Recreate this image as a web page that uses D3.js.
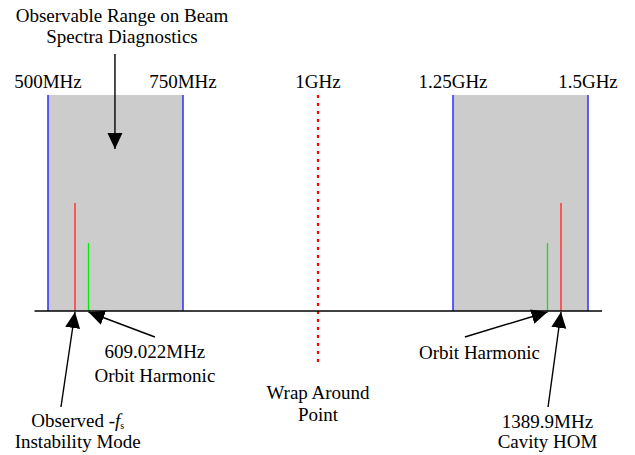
<!DOCTYPE html>
<html><head><meta charset="utf-8">
<script src="https://cdn.jsdelivr.net/npm/d3@7"></script>
<style>
body{margin:0;background:#fff;}
text{font-family:"Liberation Serif","Times New Roman",serif;font-size:19px;fill:#000;}
</style></head>
<body><svg id="c" width="635" height="455"></svg>
<script>
// ---- data ----
const tickFreqs = [500, 750, 1000, 1250, 1500];
const tickLabels = ["500MHz", "750MHz", "1GHz", "1.25GHz", "1.5GHz"];
const rangeStarts = [500, 1250];
const rangeEnds = [750, 1500];
const modeFreqs = [550, 1450];        // red lines (instability mode / cavity HOM)
const modeHeights = [0.5, 0.5];
const harmonicFreqs = [575, 1425];    // green lines (orbit harmonics)
const harmonicHeights = [0.315, 0.315];
const wrapFreq = 1000;
const axisExtent = [475, 1526];
// annotations: label text lines, label centre freq, target freq, arrow tail freq
const annLines = [["609.022MHz", "Orbit Harmonic"], ["Observed -f_s", "Instability Mode"], ["Wrap Around", "Point"], ["Orbit Harmonic"], ["1389.9MHz", "Cavity HOM"]];
const annLabelFreq = [698, 555, 1000, 1299, 1425];
const annTargetFreq = [575, 550, null, 1425, 1450];
const annTailFreq = [698, 524, null, 1272, 1426];

// ---- layout ----
const svg = d3.select("#c");
const x = d3.scaleLinear().domain([500, 1500]).range([48, 588]);
const y = d3.scaleLinear().domain([0, 1]).range([311, 95]);

// shaded ranges
const ranges = rangeStarts.map((s, i) => ({s, e: rangeEnds[i]}));
svg.selectAll("rect.range").data(ranges).join("rect")
  .attr("x", d => x(d.s)).attr("y", y(1))
  .attr("width", d => x(d.e) - x(d.s)).attr("height", y(0) - y(1))
  .attr("fill", "#cccccc");
const edges = ranges.flatMap(d => [d.s, d.e]);
svg.selectAll("line.edge").data(edges).join("line")
  .attr("x1", d => x(d)).attr("x2", d => x(d)).attr("y1", y(1)).attr("y2", y(0))
  .attr("stroke", "#3838ff").attr("stroke-width", 1.6);

// spectral lines
svg.selectAll("line.mode").data(modeFreqs).join("line")
  .attr("x1", d => x(d)).attr("x2", d => x(d)).attr("y1", (d, i) => y(modeHeights[i])).attr("y2", y(0))
  .attr("stroke", "#ff3c3c").attr("stroke-width", 1.6);
svg.selectAll("line.harm").data(harmonicFreqs).join("line")
  .attr("x1", d => x(d)).attr("x2", d => x(d)).attr("y1", (d, i) => y(harmonicHeights[i])).attr("y2", y(0))
  .attr("stroke", "#00ee00").attr("stroke-width", 1.3);

// wrap-around dotted line
svg.append("line")
  .attr("x1", x(wrapFreq)).attr("x2", x(wrapFreq)).attr("y1", y(1)).attr("y2", 362)
  .attr("stroke", "#ff0000").attr("stroke-width", 2.2).attr("stroke-dasharray", "3,5");

// baseline
svg.append("line")
  .attr("x1", x(axisExtent[0])).attr("x2", x(axisExtent[1])).attr("y1", y(0)).attr("y2", y(0))
  .attr("stroke", "#000").attr("stroke-width", 1.4);

// tick labels
svg.selectAll("text.tick").data(tickFreqs).join("text")
  .attr("x", d => x(d)).attr("y", 88).attr("text-anchor", "middle")
  .text((d, i) => tickLabels[i]);

// arrow marker
const defs = svg.append("defs");
defs.append("marker").attr("id", "ah").attr("markerUnits", "userSpaceOnUse")
  .attr("viewBox", "0 -8 16 16").attr("refX", 16).attr("refY", 0)
  .attr("markerWidth", 16).attr("markerHeight", 16).attr("orient", "auto")
  .append("path").attr("d", "M0,-7.5L16,0L0,7.5Z").attr("fill", "#000");

// title and top arrow
svg.append("text").attr("x", 122).attr("y", 22).attr("text-anchor", "middle").text("Observable Range on Beam");
svg.append("text").attr("x", 122).attr("y", 43).attr("text-anchor", "middle").text("Spectra Diagnostics");
svg.append("line").attr("x1", x(624)).attr("x2", x(624)).attr("y1", 54).attr("y2", 149)
  .attr("stroke", "#000").attr("stroke-width", 1.4).attr("marker-end", "url(#ah)");

// annotations
const rowY = [[358, 382], [427, 448], [399, 421], [359], [428, 448]];
const tailY = [337, 407, null, 337, 407];
annLines.forEach((lines, i) => {
  lines.forEach((ln, j) => {
    const t = svg.append("text").attr("x", x(annLabelFreq[i])).attr("y", rowY[i][j]).attr("text-anchor", "middle");
    if (ln.endsWith("-f_s")) {
      t.append("tspan").text(ln.replace("f_s", ""));
      t.append("tspan").attr("font-style", "italic").text("f");
      t.append("tspan").attr("font-size", "10px").attr("dy", 2).text("s");
    } else t.text(ln);
  });
  if (annTargetFreq[i] != null) {
    svg.append("line")
      .attr("x1", x(annTailFreq[i])).attr("y1", tailY[i])
      .attr("x2", x(annTargetFreq[i])).attr("y2", y(0) + 1)
      .attr("stroke", "#000").attr("stroke-width", 1.4).attr("marker-end", "url(#ah)");
  }
});
</script></body></html>
